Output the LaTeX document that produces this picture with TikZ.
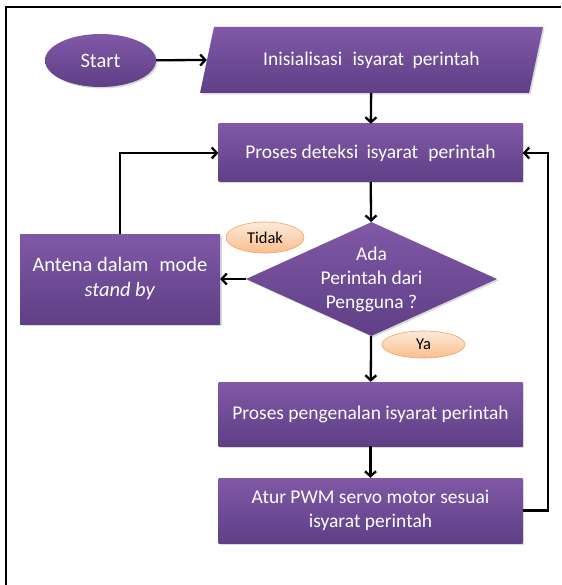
\documentclass[tikz,border=0pt]{standalone}
\usepackage{fontspec}
\setmainfont{Carlito}
\usepackage{tikz}
\usetikzlibrary{arrows.meta,positioning,shadows}
\usetikzlibrary{shapes.geometric}
\definecolor{ungutop}{RGB}{128,88,167}
\definecolor{ungubot}{RGB}{95,63,134}
\definecolor{oranyetop}{RGB}{253,234,218}
\definecolor{oranyebot}{RGB}{250,190,140}
\definecolor{oranyeline}{RGB}{245,160,95}
\tikzstyle{isi} = [top color=ungutop, bottom color=ungubot,
    drop shadow={shadow xshift=1.5pt, shadow yshift=-1.5pt, opacity=0.3}]
\tikzstyle{teks} = [text=white, align=center, font=\fontsize{19.5}{24}\selectfont]
\tikzstyle{ungu} = [isi, teks]
\tikzstyle{proses} = [ungu, rectangle, minimum width=304pt]
\tikzstyle{label} = [ellipse, draw=oranyeline, line width=0.6pt, top color=oranyetop,
    bottom color=oranyebot, font=\fontsize{16.5}{19}\selectfont, inner sep=0pt]
\tikzstyle{arrow} = [line width=2.3pt,-{Straight Barb[length=5pt,width=11pt]}]

\begin{document}
\begin{tikzpicture}[x=1pt,y=-1pt]
            \useasboundingbox (0,0) rectangle (561,585);
            \draw[line width=1.5pt] (6,585) -- (6,7) -- (561,7);

            \node[ungu, ellipse, minimum width=111pt, minimum height=53pt,
            font=\fontsize{20.5}{24}\selectfont] (start) at (100.5,60.5) {Start};
            \path[isi] (200,93) -- (214,27) -- (543,27) -- (529,93) -- cycle;
            \node[teks, minimum width=329pt, minimum height=66pt] (init) at (371.5,60)
            {Inisialisasi\hspace{0.3em} isyarat\hspace{0.2em} perintah};
            \node[proses, minimum height=58pt] (detect) at (370.5,153)
            {Proses deteksi\hspace{0.2em} isyarat\hspace{0.3em} perintah};
            \node[ungu, diamond, aspect=2.2, inner sep=0pt, minimum width=251pt,
            minimum height=114pt] (decision) at (371.5,279)
            {Ada\\Perintah dari\\Pengguna ?};
            \node[ungu, rectangle, minimum width=200pt, minimum height=90pt,
            font=\fontsize{20.5}{25}\selectfont] (standby) at (120,279)
            {Antena dalam\hspace{0.3em} mode\\\textit{stand by}};
            \node[proses, minimum height=64pt] (recog) at (370.5,414)
            {Proses pengenalan isyarat perintah};
            \node[proses, minimum height=65pt] (act) at (370.5,510.5)
            {Atur PWM servo motor sesuai\\isyarat perintah};

            \node[label, minimum width=78pt, minimum height=31pt] (tidak) at (265,237.5) {Tidak};
            \node[label, minimum width=83pt, minimum height=27pt] (ya) at (423.5,344.5) {Ya};

            \draw[arrow] (start) -- (init.west);
            \draw[arrow] (init) -- (detect);
            \draw[arrow] (detect) -- (decision);
            \draw[arrow] (decision) -- (standby);
            \draw[arrow] (standby.north) |- (detect.west);
            \draw[arrow] (decision) -- (recog);
            \draw[arrow] (recog) -- (act);
            \draw[arrow] (act.east) -- ++(25,0) |- (detect.east);
        \end{tikzpicture}
\end{document}
